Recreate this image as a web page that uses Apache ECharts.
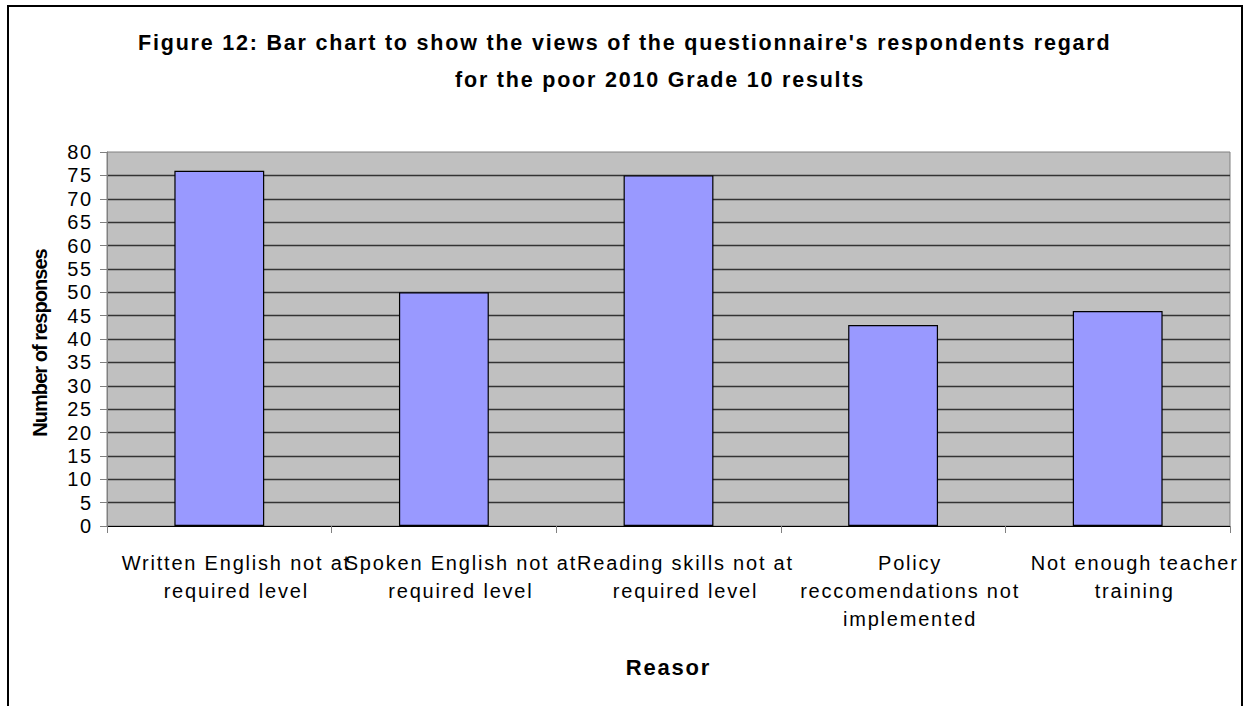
<!DOCTYPE html>
<html>
<head>
<meta charset="utf-8">
<script src="https://cdn.jsdelivr.net/npm/echarts@6/dist/echarts.min.js"></script>
<style>
  html, body { margin: 0; padding: 0; background: #fff; }
  #chart { width: 1257px; height: 706px; }
  #chart text { letter-spacing: 1.8px; }
  #chart text[style*="20.1px"] { letter-spacing: -1px; }
</style>
</head>
<body>
<div id="chart"></div>
<script>
const titleLine1 = "Figure 12: Bar chart to show the views of the questionnaire's respondents regard";
const titleLine2 = "for the poor 2010 Grade 10 results";
const categories = [
  "Written English not at\nrequired level",
  "Spoken English not at\nrequired level",
  "Reading skills not at\nrequired level",
  "Policy\nreccomendations not\nimplemented",
  "Not enough teacher\ntraining"
];
const responses = [76, 50, 75, 43, 46];
const yAxisTitle = "Number of responses";
const xAxisTitle = "Reasor";

const chart = echarts.init(document.getElementById('chart'), null, { renderer: 'svg' });
const font = '"Liberation Sans", Arial, sans-serif';
chart.setOption({
  animation: false,
  backgroundColor: '#ffffff',
  title: [
    { text: titleLine1, left: 133, top: 27,
      textStyle: { fontFamily: font, fontSize: 21.5, fontWeight: 'bold', color: '#000' } },
    { text: titleLine2, left: 450, top: 64,
      textStyle: { fontFamily: font, fontSize: 21.5, fontWeight: 'bold', color: '#000' } }
  ],
  grid: { left: 107, right: 27, top: 152, bottom: 180, show: true,
    backgroundColor: '#C0C0C0', borderColor: '#808080', borderWidth: 1 },
  xAxis: {
    type: 'category', data: categories,
    name: xAxisTitle, nameLocation: 'middle', nameGap: 130,
    nameTextStyle: { fontFamily: font, fontSize: 22, fontWeight: 'bold', color: '#000' },
    axisLine: { lineStyle: { color: '#000', width: 1 } },
    axisTick: { show: true, length: 7, lineStyle: { color: '#808080' } },
    axisLabel: { interval: 0, fontFamily: font, fontSize: 20, color: '#000',
      margin: 23, lineHeight: 28, padding: [0, 0, 0, 34] },
    splitLine: { show: false }
  },
  yAxis: {
    type: 'value', min: 0, max: 80, interval: 5,
    name: yAxisTitle, nameLocation: 'middle', nameGap: 57, nameRotate: 90,
    nameTextStyle: { fontFamily: font, fontSize: 20.1, fontWeight: 'bold', color: '#000',
      padding: [0, 8, 0, 0] },
    axisLine: { show: true, lineStyle: { color: '#808080' } },
    axisTick: { show: true, length: 7, lineStyle: { color: '#808080' } },
    axisLabel: { fontFamily: font, fontSize: 20, color: '#000', margin: 14 },
    splitLine: { show: true, showMinLine: false, showMaxLine: false,
      lineStyle: { color: '#333333', width: 1.3 } }
  },
  series: [{
    type: 'bar', data: responses, barWidth: '40%',
    itemStyle: { color: '#9999FF', borderColor: '#000000', borderWidth: 1.2 }
  }],
  graphic: [
    { type: 'rect', z: 100, silent: true,
      shape: { x: 8, y: 6, width: 1234, height: 760 },
      style: { fill: 'none', stroke: '#000', lineWidth: 2 } },
    { type: 'rect', z: 99, silent: true,
      shape: { x: 1243, y: 0, width: 20, height: 706 },
      style: { fill: '#fff' } }
  ]
});
</script>
</body>
</html>
